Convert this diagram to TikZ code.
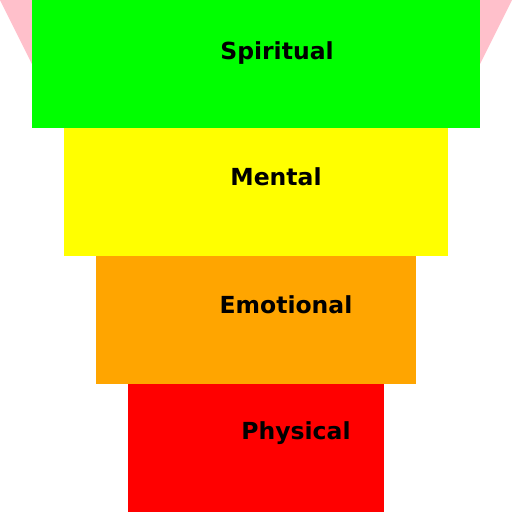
\documentclass[tikz,border=0pt]{standalone}
\usepackage{fontspec}
\setmainfont{DejaVu Sans}
\usetikzlibrary{positioning}
\definecolor{webpink}{RGB}{255,192,203}
\definecolor{weborange}{RGB}{255,165,0}
\definecolor{webyellow}{RGB}{255,255,0}
\definecolor{webgreen}{RGB}{0,255,0}
\definecolor{webred}{RGB}{255,0,0}

\begin{document}
\begin{tikzpicture}[
    x=1pt, y=-1pt,
    level/.style={rectangle, inner sep=0pt, outer sep=0pt, minimum height=128pt},
    tag/.style={inner sep=0pt, font=\fontsize{23.5pt}{28pt}\selectfont\bfseries, text=black}
]
    \useasboundingbox (0,0) rectangle (512,512);

    % --- BACKGROUND TRIANGLE ---
    \fill[webpink] (0,0) -- (512,0) -- (256,512) -- cycle;

    % --- LEVELS ---
    \node[level, fill=webgreen, minimum width=448pt] (spiritual) at (256, 64) {};
    \node[level, fill=webyellow, minimum width=384pt] (mental) at (256, 192) {};
    \node[level, fill=weborange, minimum width=320pt] (emotional) at (256, 320) {};
    \node[level, fill=webred, minimum width=256pt] (physical) at (256, 448) {};

    % Level Labels
    \node[tag] (spirituallabel) at (277, 53) {Spiritual};
    \node[tag] (mentallabel) at (276, 177) {Mental};
    \node[tag] (emotionallabel) at (286, 305) {Emotional};
    \node[tag] (physicallabel) at (296, 433) {Physical};

\end{tikzpicture}
\end{document}
